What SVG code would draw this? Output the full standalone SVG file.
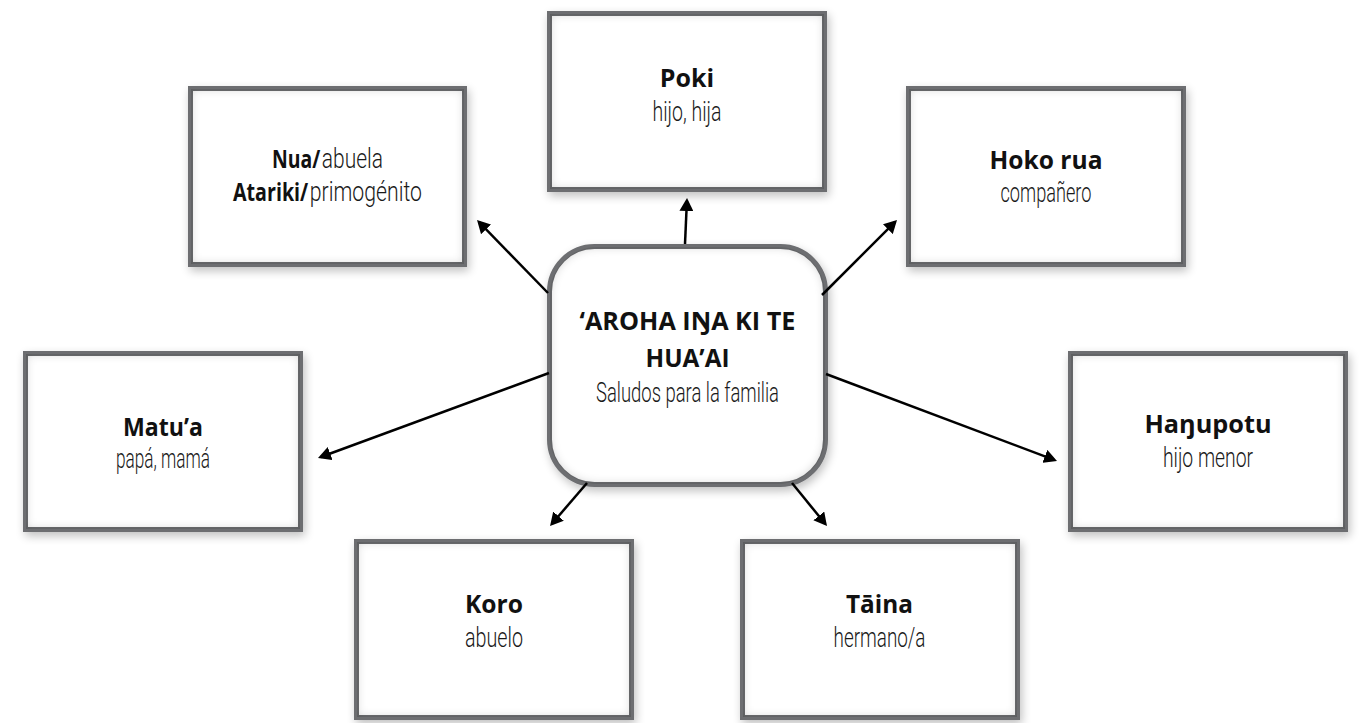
<svg xmlns="http://www.w3.org/2000/svg" width="1366" height="723" viewBox="0 0 1366 723">
<style>
.box{fill:#fff;stroke:#6d6e71;stroke-width:5;filter:url(#sh)}
.t{font-family:"Open Sans","Noto Sans",sans-serif;font-weight:bold;font-size:25px;fill:#111;text-anchor:middle}
.s{font-family:Roboto,"Open Sans",sans-serif;font-weight:300;font-size:27px;fill:#1a1a1a;text-anchor:middle}
.b{font-family:"Open Sans","Noto Sans",sans-serif;font-weight:bold;font-size:25px;fill:#111}
.n{font-family:Roboto,"Open Sans",sans-serif;font-weight:300;font-size:27px;fill:#1a1a1a}
.ct{font-family:"Open Sans","Noto Sans",sans-serif;font-weight:bold;font-size:25px;fill:#111;text-anchor:middle}
.c{stroke:#000;stroke-width:2.5;fill:none;marker-end:url(#ah)}
</style>
<defs>
<filter id="sh" x="-15%" y="-15%" width="130%" height="130%">
<feGaussianBlur in="SourceAlpha" stdDeviation="5" result="b"/>
<feOffset in="b" dx="2" dy="4" result="ob"/>
<feComponentTransfer in="ob" result="drop"><feFuncA type="linear" slope="0.25"/></feComponentTransfer>
<feMorphology in="SourceAlpha" operator="erode" radius="3" result="inA"/>
<feFlood flood-color="#000" flood-opacity="0.4" result="f"/>
<feComposite in="f" in2="inA" operator="out" result="outside"/>
<feGaussianBlur in="outside" stdDeviation="5" result="ib"/>
<feComposite in="ib" in2="inA" operator="in" result="inner"/>
<feMerge><feMergeNode in="drop"/><feMergeNode in="SourceGraphic"/><feMergeNode in="inner"/></feMerge>
</filter>
<marker id="ah" markerUnits="userSpaceOnUse" markerWidth="13" markerHeight="14" refX="10" refY="7" orient="auto">
<path d="M0,0 L13,7 L0,14 z" fill="#000"/>
</marker>
</defs>
<rect width="1366" height="723" fill="#fff"/>

<g id="node-nua">
<rect class="box" x="190.5" y="88.5" width="274" height="176"/>
<text x="327.5" y="168" text-anchor="middle" textLength="111" lengthAdjust="spacingAndGlyphs"><tspan class="b">Nua/</tspan><tspan class="n" dx="2">abuela</tspan></text>
<text x="327.5" y="201" text-anchor="middle" textLength="189" lengthAdjust="spacingAndGlyphs"><tspan class="b">Atariki/</tspan><tspan class="n" dx="2">primogénito</tspan></text>
</g>
<g id="node-poki">
<rect class="box" x="549.5" y="13.5" width="275" height="176"/>
<text class="t" x="687" y="87">Poki</text>
<text class="s" x="687" y="121" textLength="69" lengthAdjust="spacingAndGlyphs">hijo, hija</text>
</g>
<g id="node-hoko-rua">
<rect class="box" x="908.5" y="88.5" width="275" height="176"/>
<text class="t" x="1046" y="169" textLength="113" lengthAdjust="spacingAndGlyphs">Hoko rua</text>
<text class="s" x="1046" y="202" textLength="91" lengthAdjust="spacingAndGlyphs">compañero</text>
</g>
<g id="node-matua">
<rect class="box" x="25.5" y="353.5" width="275" height="176"/>
<text class="t" x="163" y="436" textLength="80" lengthAdjust="spacingAndGlyphs">Matu’a</text>
<text class="s" x="163" y="468" textLength="94" lengthAdjust="spacingAndGlyphs">papá, mamá</text>
</g>
<g id="node-hanupotu">
<rect class="box" x="1070.5" y="353.5" width="275" height="176"/>
<text class="t" x="1208" y="433" textLength="127" lengthAdjust="spacingAndGlyphs">Haŋupotu</text>
<text class="s" x="1208" y="467" textLength="90" lengthAdjust="spacingAndGlyphs">hijo menor</text>
</g>
<g id="node-koro">
<rect class="box" x="356.5" y="541.5" width="275" height="176"/>
<text class="t" x="494" y="613" textLength="58" lengthAdjust="spacingAndGlyphs">Koro</text>
<text class="s" x="494" y="647" textLength="58" lengthAdjust="spacingAndGlyphs">abuelo</text>
</g>
<g id="node-taina">
<rect class="box" x="742.5" y="541.5" width="275" height="176"/>
<text class="t" x="879.5" y="613" textLength="67" lengthAdjust="spacingAndGlyphs">Tāina</text>
<text class="s" x="879.5" y="647" textLength="92" lengthAdjust="spacingAndGlyphs">hermano/a</text>
</g>
<g id="node-center">
<rect class="box" x="549.5" y="246.5" width="276" height="238" rx="45" ry="45"/>
<text class="ct" x="687.5" y="330" textLength="216" lengthAdjust="spacingAndGlyphs">‘AROHA IŊA KI TE</text>
<text class="ct" x="687.5" y="367" textLength="84" lengthAdjust="spacingAndGlyphs">HUA’AI</text>
<text class="s" x="687.5" y="402" textLength="183" lengthAdjust="spacingAndGlyphs">Saludos para la familia</text>
</g>

<g id="connectors">
<line class="c" x1="548" y1="293" x2="479.1" y2="222.2"/>
<line class="c" x1="685" y1="244" x2="686.9" y2="201"/>
<line class="c" x1="822" y1="295" x2="894.9" y2="222.1"/>
<line class="c" x1="549" y1="373" x2="320.8" y2="457"/>
<line class="c" x1="826" y1="374" x2="1054.2" y2="459.9"/>
<line class="c" x1="587" y1="483" x2="552" y2="523.7"/>
<line class="c" x1="792" y1="483" x2="825.1" y2="523.7"/>
</g>
</svg>
